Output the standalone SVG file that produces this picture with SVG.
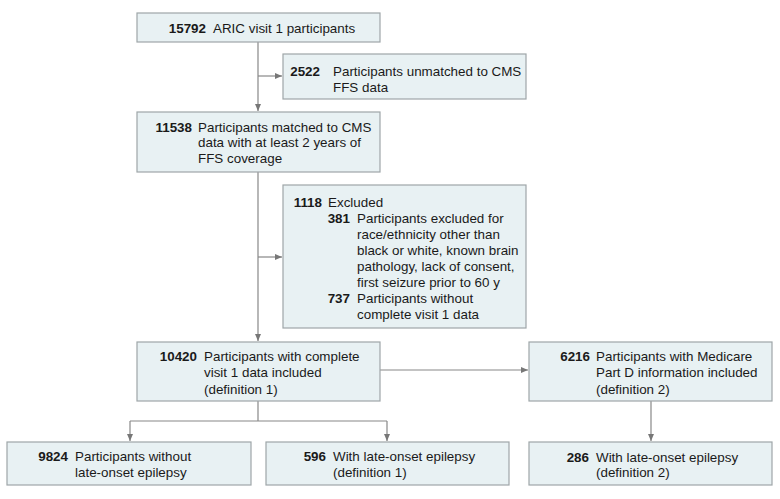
<svg xmlns="http://www.w3.org/2000/svg" width="780" height="499" viewBox="0 0 780 499">
<defs>
<marker id="ah" markerUnits="userSpaceOnUse" markerWidth="8" markerHeight="7" refX="7" refY="3" orient="auto">
<path d="M0,0 L7,3 L0,6 z" fill="#777"/>
</marker>
<style>
.box{fill:#e8f1f3;stroke:#9ea6a8;stroke-width:1.2}
.c{fill:none;stroke:#888;stroke-width:1.2}
text{font-family:"Liberation Sans",Arial,sans-serif;font-size:13.4px;fill:#1a1a1a}
.n{font-weight:bold;text-anchor:end}
</style>
</defs>
<rect width="780" height="499" fill="#fff"/>
<g id="connectors">
<path class="c" d="M258,42 V111" marker-end="url(#ah)"/>
<path class="c" d="M258,76 H282" marker-end="url(#ah)"/>
<path class="c" d="M258,172 V341" marker-end="url(#ah)"/>
<path class="c" d="M258,257 H282" marker-end="url(#ah)"/>
<path class="c" d="M380,370 H528" marker-end="url(#ah)"/>
<path class="c" d="M651,401 V441" marker-end="url(#ah)"/>
<path class="c" d="M258,401 V421"/>
<path class="c" d="M130,421 H387"/>
<path class="c" d="M130,421 V441" marker-end="url(#ah)"/>
<path class="c" d="M387,421 V441" marker-end="url(#ah)"/>
</g>
<g id="n1">
<rect class="box" x="137" y="13" width="243" height="29"/>
<text class="n" x="206" y="32.5">15792</text>
<text x="213" y="32.5">ARIC visit 1 participants</text>
</g>
<g id="n2">
<rect class="box" x="283" y="54" width="243" height="45"/>
<text class="n" x="320" y="76">2522</text>
<text x="333" y="76">Participants unmatched to CMS</text>
<text x="333" y="91.5">FFS data</text>
</g>
<g id="n3">
<rect class="box" x="137" y="112" width="243" height="60"/>
<text class="n" x="192" y="131.5">11538</text>
<text x="198" y="131.5">Participants matched to CMS</text>
<text x="198" y="147">data with at least 2 years of</text>
<text x="198" y="162.5">FFS coverage</text>
</g>
<g id="n4">
<rect class="box" x="283" y="185" width="243" height="143"/>
<text class="n" x="322" y="206.7">1118</text>
<text x="328" y="206.7">Excluded</text>
<text class="n" x="350" y="223">381</text>
<text x="357" y="223">Participants excluded for</text>
<text x="357" y="239">race/ethnicity other than</text>
<text x="357" y="255">black or white, known brain</text>
<text x="357" y="271">pathology, lack of consent,</text>
<text x="357" y="287">first seizure prior to 60 y</text>
<text class="n" x="350" y="303">737</text>
<text x="357" y="303">Participants without</text>
<text x="357" y="319">complete visit 1 data</text>
</g>
<g id="n5">
<rect class="box" x="137" y="342" width="243" height="59"/>
<text class="n" x="197" y="361">10420</text>
<text x="204" y="361">Participants with complete</text>
<text x="204" y="377">visit 1 data included</text>
<text x="204" y="393.5">(definition 1)</text>
</g>
<g id="n6">
<rect class="box" x="529" y="342" width="243" height="59"/>
<text class="n" x="590" y="361">6216</text>
<text x="596" y="361">Participants with Medicare</text>
<text x="596" y="377">Part D information included</text>
<text x="596" y="393.5">(definition 2)</text>
</g>
<g id="n7">
<rect class="box" x="7" y="442" width="244" height="43"/>
<text class="n" x="68" y="460.5">9824</text>
<text x="75" y="460.5">Participants without</text>
<text x="75" y="477">late-onset epilepsy</text>
</g>
<g id="n8">
<rect class="box" x="266" y="442" width="243" height="43"/>
<text class="n" x="326" y="460.5">596</text>
<text x="333" y="460.5">With late-onset epilepsy</text>
<text x="333" y="477">(definition 1)</text>
</g>
<g id="n9">
<rect class="box" x="529" y="442" width="243" height="43"/>
<text class="n" x="589" y="461.5">286</text>
<text x="596" y="461.5">With late-onset epilepsy</text>
<text x="596" y="477">(definition 2)</text>
</g>
</svg>
